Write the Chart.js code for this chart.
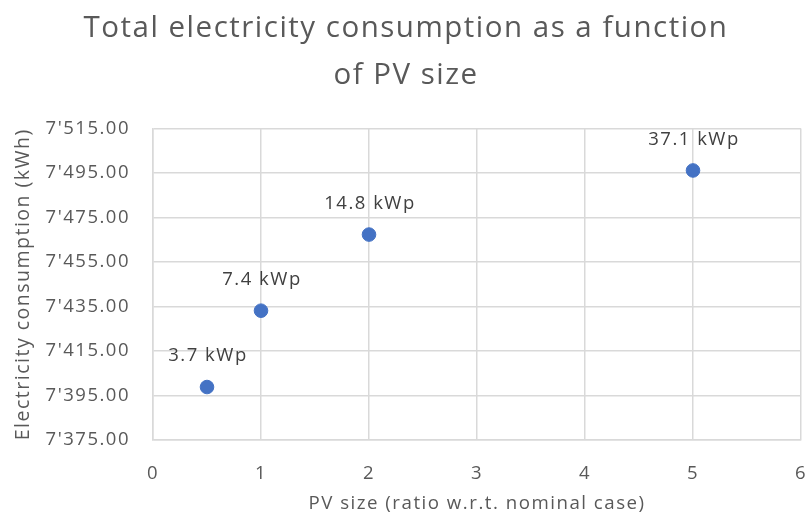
<!DOCTYPE html>
<html>
<head>
<meta charset="utf-8">
<script src="https://cdn.jsdelivr.net/npm/chart.js@4"></script>
<style>
  html, body { margin: 0; padding: 0; background: #fff; }
  #wrap { width: 812px; height: 524px; }
</style>
</head>
<body>
<div id="wrap"><canvas id="chart"></canvas></div>
<script>
const pvRatio = [0.5, 1, 2, 5];
const consumption = [7398.8, 7433.1, 7467.3, 7496.1];
const pvLabels = ["3.7 kWp", "7.4 kWp", "14.8 kWp", "37.1 kWp"];
const titleLines = ["Total electricity consumption as a function", "of PV size"];

const fontFamily = "'Open Sans', sans-serif";
const gridColor = "#d9d9d9";
const textColor = "#595959";
const spacing = "1.5px";

// format like 7'515.00
function swissFormat(v) {
  const parts = v.toFixed(2).split(".");
  const intPart = parts[0].replace(/\B(?=(\d{3})+(?!\d))/g, "'");
  return intPart + "." + parts[1];
}

// the original text is a bit wider, so spread letters a little
const letterSpacing = {
  id: "letterSpacing",
  beforeLayout(chart) { chart.ctx.letterSpacing = spacing; },
  beforeDraw(chart) { chart.ctx.letterSpacing = spacing; },
};

// labels above each point
const pointLabels = {
  id: "pointLabels",
  afterDatasetsDraw(chart) {
    const ctx = chart.ctx;
    const meta = chart.getDatasetMeta(0);
    ctx.save();
    ctx.font = "18.5px " + fontFamily;
    ctx.fillStyle = "#404040";
    ctx.textAlign = "center";
    ctx.textBaseline = "middle";
    meta.data.forEach((pt, i) => {
      ctx.fillText(pvLabels[i], pt.x + 1, pt.y - 31);
    });
    ctx.restore();
  },
};

new Chart("chart", {
  type: "scatter",
  data: {
    datasets: [
      {
        data: pvRatio.map((x, i) => ({ x: x, y: consumption[i] })),
        backgroundColor: "#4472c4",
        borderColor: "#4472c4",
        pointRadius: 6.8,
        pointHoverRadius: 6.8,
      },
    ],
  },
  options: {
    responsive: true,
    maintainAspectRatio: false,
    animation: false,
    layout: { padding: { left: 0, right: 0, top: 0, bottom: 0 } },
    plugins: {
      legend: { display: false },
      tooltip: { enabled: false },
      title: {
        display: true,
        text: titleLines,
        color: textColor,
        font: { family: fontFamily, size: 29.5, weight: "normal", lineHeight: 1.6 },
        padding: { top: 5, bottom: 29 },
      },
    },
    scales: {
      x: {
        type: "linear",
        min: 0,
        max: 6,
        ticks: { stepSize: 1, color: textColor, font: { family: fontFamily, size: 18.5 }, padding: 23 },
        grid: { color: gridColor, lineWidth: 1.5, drawTicks: false },
        border: { color: gridColor, width: 1.5 },
        title: {
          display: true,
          text: "PV size (ratio w.r.t. nominal case)",
          color: textColor,
          font: { family: fontFamily, size: 18.7 },
          padding: { top: 4, bottom: 9 },
        },
        afterFit(scale) {
          scale.height = 84;
          scale.paddingLeft = 0;
          scale.paddingRight = 11;
        },
      },
      y: {
        min: 7375,
        max: 7515,
        ticks: {
          stepSize: 20,
          color: textColor,
          font: { family: fontFamily, size: 18.5 },
          padding: 23,
          callback: (v) => swissFormat(v),
        },
        grid: { color: gridColor, lineWidth: 1.5, drawTicks: false },
        border: { color: gridColor, width: 1.5 },
        title: {
          display: true,
          text: "Electricity consumption (kWh)",
          color: textColor,
          font: { family: fontFamily, size: 19.5 },
          padding: { top: 12, bottom: 4 },
        },
        afterFit(scale) { scale.width = 153; },
      },
    },
  },
  plugins: [letterSpacing, pointLabels],
});
</script>
</body>
</html>
